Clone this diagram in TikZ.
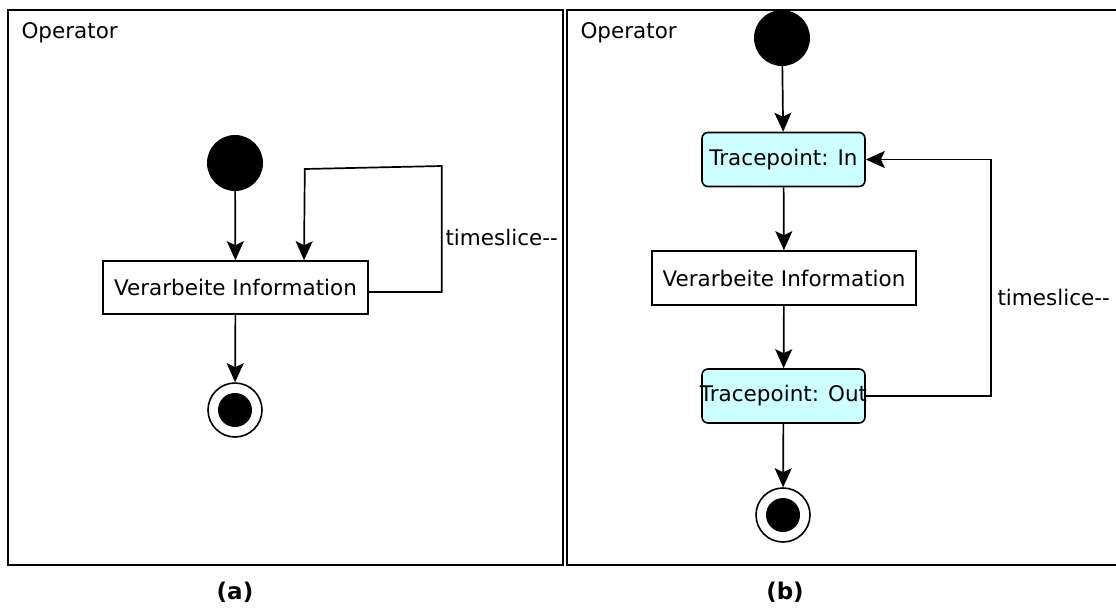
\documentclass[tikz,border=0pt]{standalone}
\usepackage{fontspec}
\setmainfont{DejaVu Sans}
\usetikzlibrary{arrows.meta}
\definecolor{tracecyan}{HTML}{CCFFFF}

\begin{document}
\begin{tikzpicture}[x=1pt,y=-1pt,
  font=\fontsize{21.5}{25}\selectfont,
  flow/.style={line width=1.7pt,-{Stealth[length=19pt,width=17pt,inset=4pt]}},
  initial/.style={circle,fill=black,minimum size=56pt,inner sep=0pt},
  final/.style={circle,draw,line width=1.6pt,minimum size=54pt,inner sep=0pt,
    path picture={\fill (path picture bounding box.center) circle (17pt);}},
  action/.style={draw,line width=1.6pt,fill=white,inner sep=0pt},
  trace/.style={action,fill=tracecyan,rounded corners=6pt,minimum width=163pt,minimum height=54pt},
  caption/.style={font=\fontsize{23}{27}\selectfont\bfseries}]
\clip (0,0) rectangle (1116,610);
\fill[white] (0,0) rectangle (1116,610);

% the two operator frames
\draw[line width=1.8pt] (8,10) rectangle (563,565);
\draw[line width=1.8pt] (567,10) rectangle (1130,565);
\node[anchor=west] (opA) at (18,33) {Operator};
\node[anchor=west] (opB) at (577,33) {Operator};

% (a) without tracepoints
\node (startA) at (235,163) [initial]{};
\node (procA) at (235.5,287.5) [action,minimum width=265pt,minimum height=53pt]{Verarbeite Information};
\node (stopA) at (235,410) [final]{};

\draw[flow] (startA)--(procA);
\draw[flow] (procA)--(stopA);
\draw[flow] ([yshift=-4.5pt]procA.east)--++(73,0)--++(0,-126)--++(-137,3)--([xshift=68.5pt]procA.north);
\node[anchor=west] (sliceA) at (442,237) {timeslice-{}-};

% (b) with tracepoints
\node (startB) at (782,38) [initial]{};
\node (inB) at (783.5,159.5) [trace]{Tracepoint: In};
\node (procB) at (784,278) [action,minimum width=264pt,minimum height=54pt]{Verarbeite Information};
\node (outB) at (783.5,396) [trace]{\makebox[0pt]{Tracepoint: Out}};
\node (stopB) at (783,515) [final]{};

\draw[flow] (startB)--(inB);
\draw[flow] (inB)--(procB);
\draw[flow] (procB)--(outB);
\draw[flow] (outB)--(stopB);
\draw[flow] (outB.east)--++(125,0)|-(inB.east);
\node[anchor=west] (sliceB) at (994,297) {timeslice-{}-};

\node (capA) at (235,592) [caption]{(a)};
\node (capB) at (785,592) [caption]{(b)};
\end{tikzpicture}
\end{document}
